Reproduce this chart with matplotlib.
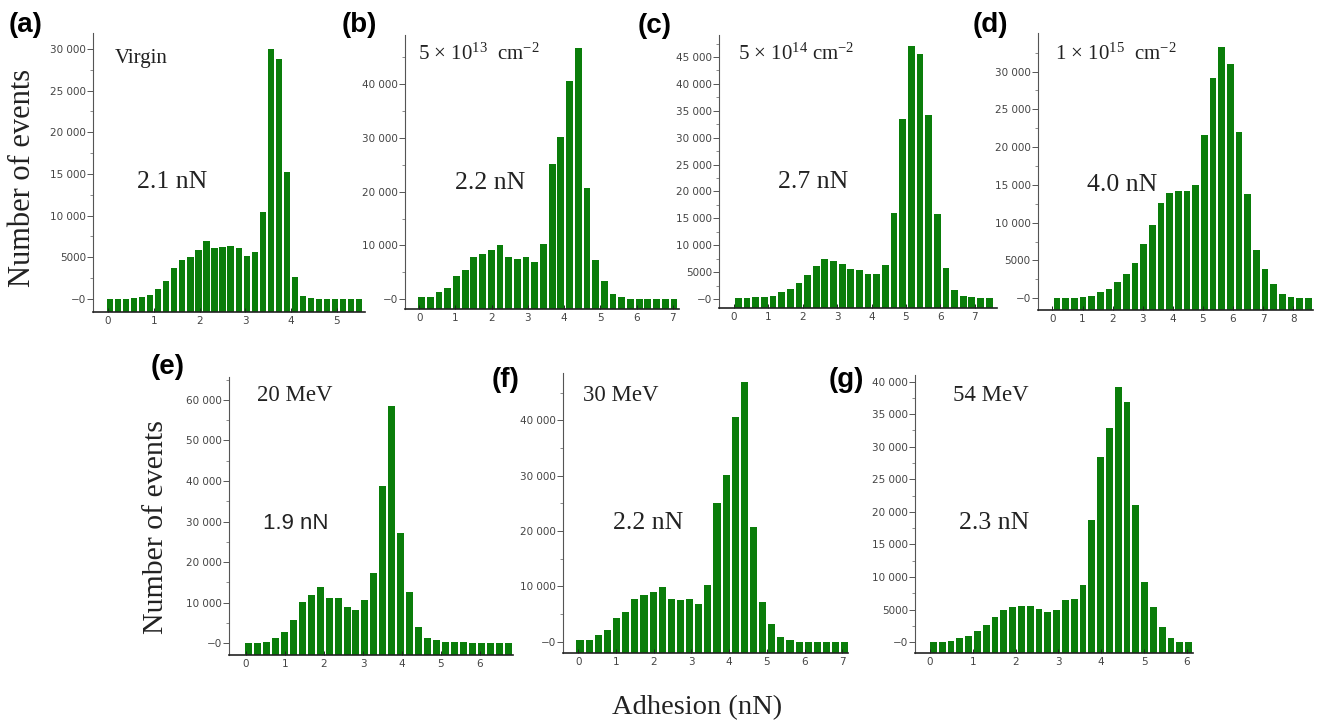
import numpy as np
import matplotlib.pyplot as plt

plt.rcParams['font.family'] = ['Liberation Serif', 'DejaVu Serif']
plt.rcParams['mathtext.fontset'] = 'custom'
plt.rcParams['mathtext.rm'] = 'Liberation Serif'
plt.rcParams['mathtext.it'] = 'Liberation Serif:italic'

W, H = 1321, 725

# number of events per adhesion bin
a_counts = [0, 0, 0, 80, 240, 480, 1160, 2200, 3680, 4640, 5000, 5880, 7000, 6120, 6240, 6360,
            6160, 5160, 5600, 10480, 30000, 28800, 15200, 2600, 400, 120, 0, 0, 0, 0, 0, 0]
b_counts = [430, 430, 1370, 2170, 4290, 5530, 7890, 8510, 9130, 10000, 7890, 7580, 7890, 7020, 10370,
            25200, 30200, 40600, 46800, 20700, 7300, 3400, 1000, 500, 100, 0, 0, 0, 0, 0]
c_counts = [120, 120, 370, 430, 610, 1230, 1840, 3000, 4410, 6130, 7420, 7110, 6500, 5640, 5330,
            4720, 4720, 6250, 16060, 33500, 47000, 45500, 34200, 15800, 5700, 1600, 650, 370, 120, 120]
d_counts = [0, 0, 0, 220, 350, 840, 1190, 2110, 3170, 4620, 7170, 9760, 12620, 13940, 14150,
            14150, 15030, 21540, 29200, 33300, 31000, 22000, 13800, 6400, 3900, 1900, 530, 220, 0, 0]
e_counts = [160, 160, 410, 1400, 2710, 5750, 10270, 11920, 13970, 11100, 11100, 9040, 8220, 10680, 17260,
            38880, 58610, 27130, 12740, 4110, 1230, 820, 410, 410, 410, 160, 160, 160, 160, 160]
f_counts = [300, 300, 1200, 2100, 4200, 5400, 7800, 8400, 9000, 9900, 7800, 7500, 7800, 6900, 10200,
            25000, 30200, 40700, 46900, 20700, 7200, 3200, 900, 300, 0, 0, 0, 0, 0, 0]
g_counts = [0, 0, 260, 620, 1030, 1800, 2580, 3860, 4890, 5410, 5610, 5610, 5150, 4640, 4890,
            6440, 6700, 8760, 18700, 28400, 32900, 39100, 36800, 21100, 9300, 5400, 2300, 620, 0, 0]

# centre of first bin and bin width (nN)
a_bin = (0.04, 0.176)
b_bin = (0.07, 0.24)
c_bin = (0.125, 0.2516)
d_bin = (0.15, 0.288)
e_bin = (0.06, 0.23)
f_bin = (0.05, 0.242)
g_bin = (0.08, 0.2055)

panel_labels = ['(a)', '(b)', '(c)', '(d)', '(e)', '(f)', '(g)']
top_texts = ['Virgin', '5 × 10$^{13}$  cm$^{-2}$', '5 × 10$^{14}$ cm$^{-2}$',
             '1 × 10$^{15}$  cm$^{-2}$', '20 MeV', '30 MeV', '54 MeV']
mean_texts = ['2.1 nN', '2.2 nN', '2.7 nN', '4.0 nN', '1.9 nN', '2.2 nN', '2.3 nN']
y_steps = [5000, 10000, 5000, 5000, 10000, 10000, 5000]
y_tops = [30000, 40000, 45000, 30000, 60000, 40000, 40000]
x_tops = [5, 7, 7, 8, 6, 7, 6]

counts = [a_counts, b_counts, c_counts, d_counts, e_counts, f_counts, g_counts]
bins = [a_bin, b_bin, c_bin, d_bin, e_bin, f_bin, g_bin]

# layout in pixels: axes box (left, top, right, bottom), limits, text anchors
boxes = [(93, 33, 365, 311.7), (405, 35, 679, 309.3), (719.3, 35, 997, 308.3), (1037.7, 33.3, 1313, 310),
         (229.3, 376.7, 512.7, 655), (562.7, 373, 848.3, 652.7), (915, 375, 1193.3, 653.3)]
xlims = [(-0.33, 5.62), (-0.39, 7.17), (-0.43, 7.65), (-0.49, 8.66), (-0.43, 6.84), (-0.41, 7.16), (-0.35, 6.15)]
ylims = [(-1520, 31900), (-1860, 49130), (-1730, 49100), (-1550, 35060), (-2880, 65720), (-1990, 48580), (-1690, 41000)]
label_pos = [(26, 25), (359, 25), (655, 26), (990, 25), (168, 367), (506, 380), (846, 380)]
top_pos = [(115, 63, 15), (418, 60, 15), (738, 60, 15), (1055, 60, 15), (257, 401, 16.5), (583, 401, 16.5), (953, 401, 16.5)]
mean_pos = [(137, 188), (455, 189), (778, 188), (1087, 191), (263, 529), (613, 529), (959, 529)]

green = '#0a7d0a'


def ylab(v, pos):
    v = int(round(v))
    if v == 0:
        return '\u22120'
    if v < 10000:
        return str(v)
    return '%d %03d' % (v // 1000, v % 1000)


fig = plt.figure(figsize=(W / 100, H / 100), dpi=100)

for i in range(7):
    l, t, r, b = boxes[i]
    ax = fig.add_axes([l / W, 1 - b / H, (r - l) / W, (b - t) / H])
    x0, dx = bins[i]
    x = x0 + dx * np.arange(len(counts[i]))
    base = ylims[i][0]
    ax.bar(x, np.array(counts[i]) - base, bottom=base, width=0.78 * dx, color=green, linewidth=0)
    ax.set_xlim(*xlims[i])
    ax.set_ylim(*ylims[i])
    ax.set_xticks(range(0, x_tops[i] + 1))
    ax.set_yticks(np.arange(0, y_tops[i] + 1, y_steps[i]))
    ax.set_yticks(np.arange(y_steps[i] / 2, ylims[i][1], y_steps[i]), minor=True)
    ax.yaxis.set_major_formatter(plt.FuncFormatter(ylab))
    for s in ['top', 'right']:
        ax.spines[s].set_visible(False)
    ax.spines['left'].set_color('#555555')
    ax.spines['left'].set_linewidth(0.8)
    ax.spines['bottom'].set_color('#222222')
    ax.spines['bottom'].set_linewidth(1.2)
    ax.tick_params(axis='y', which='major', length=4, width=0.7, color='#555555', pad=1,
                   labelsize=7.5, labelcolor='#444444')
    ax.tick_params(axis='y', which='minor', length=2.5, width=0.6, color='#777777')
    ax.tick_params(axis='x', which='major', direction='in', length=3, width=0.7, color='#222222',
                   pad=3, labelsize=7.5, labelcolor='#444444')
    plt.setp(ax.get_xticklabels() + ax.get_yticklabels(), family='DejaVu Sans')

    lx, ly = label_pos[i]
    fig.text(lx / W, 1 - ly / H, panel_labels[i], family='Liberation Sans', weight='bold',
             fontsize=20, ha='center', va='center')
    tx, ty, ts = top_pos[i]
    fig.text(tx / W, 1 - ty / H, top_texts[i], fontsize=ts, ha='left', va='baseline', color='#222222')
    mx, my = mean_pos[i]
    if i == 4:
        fig.text(mx / W, 1 - my / H, mean_texts[i], family='Liberation Sans', fontsize=16,
                 ha='left', va='baseline', color='#222222')
    else:
        fig.text(mx / W, 1 - my / H, mean_texts[i], fontsize=18.5, ha='left', va='baseline', color='#222222')

fig.text(22.5 / W, 1 - 177.5 / H, 'Number of events', rotation=90, fontsize=22,
         ha='center', va='center', color='#222222')
fig.text(156 / W, 1 - 527 / H, 'Number of events', rotation=90, fontsize=21.5,
         ha='center', va='center', color='#222222')
fig.text(697 / W, 1 - 708 / H, 'Adhesion (nN)', fontsize=20.5, ha='center', va='center', color='#222222')

fig.savefig('out.png', dpi=100)
